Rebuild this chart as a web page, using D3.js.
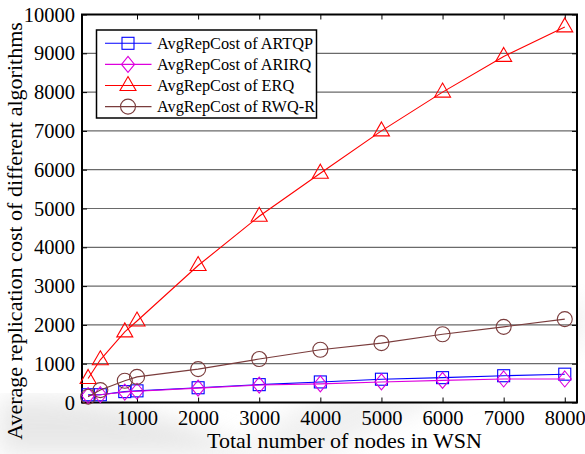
<!DOCTYPE html>
<html>
<head>
<meta charset="utf-8">
<script src="https://cdn.jsdelivr.net/npm/d3@7"></script>
<style>
  body { margin: 0; background: #fff; }
  svg { display: block; font-family: "Liberation Serif", "DejaVu Serif", serif; }
</style>
</head>
<body>
<div id="chart"></div>
<script>
// Data
const nodeCounts = [200, 400, 800, 1000, 2000, 3000, 4000, 5000, 6000, 7000, 8000];
const artqpCost = [200, 200, 280, 300, 380, 460, 530, 600, 640, 690, 730];
const arirqCost = [180, 200, 270, 290, 370, 450, 480, 530, 570, 606, 606];
const erqCost = [620, 1100, 1820, 2100, 3530, 4800, 5910, 7000, 8000, 8920, 9680];
const rwqrCost = [150, 320, 560, 660, 860, 1120, 1360, 1530, 1760, 1950, 2150];
const xTicks = [1000, 2000, 3000, 4000, 5000, 6000, 7000, 8000];
const yTicks = d3.range(0, 10001, 1000);

const seriesList = [
    { name: "AvgRepCost of ARTQP", values: artqpCost, color: "#0000ff", marker: "square" },
    { name: "AvgRepCost of ARIRQ", values: arirqCost, color: "#dd00dd", marker: "diamond" },
    { name: "AvgRepCost of ERQ", values: erqCost, color: "#ff0000", marker: "triangle" },
    { name: "AvgRepCost of RWQ-R", values: rwqrCost, color: "#7a3c3c", marker: "circle" }
];

const width = 585, height = 454;
const plot = { left: 82, right: 577, top: 14.5, bottom: 402.5 };
const serif = "'Liberation Serif', 'DejaVu Serif', serif";

const svg = d3.select("#chart").append("svg")
    .attr("width", width)
    .attr("height", height);

// faint background swoosh like the scanned figure
const defs = svg.append("defs");
defs.append("filter").attr("id", "blur")
    .append("feGaussianBlur").attr("stdDeviation", 12);
svg.append("path")
    .attr("d", "M0,454 L0,400 Q120,390 260,454 Z")
    .attr("fill", "#d8d8d8").attr("filter", "url(#blur)").attr("opacity", 0.6);
svg.append("path")
    .attr("d", "M230,454 Q330,380 470,330 L585,300 L585,340 Q430,400 330,454 Z")
    .attr("fill", "#e6e6e6").attr("filter", "url(#blur)").attr("opacity", 0.6);

const x = d3.scaleLinear().domain([100, 8200]).range([plot.left, plot.right]);
const y = d3.scaleLinear().domain([0, 10000]).range([plot.bottom, plot.top]);

const g = svg.append("g");

// plot background
g.append("rect")
    .attr("x", plot.left).attr("y", plot.top)
    .attr("width", plot.right - plot.left).attr("height", plot.bottom - plot.top)
    .attr("fill", "#fff");

// horizontal grid lines
g.append("g").selectAll("line")
    .data(yTicks.slice(1, -1))
    .join("line")
    .attr("x1", plot.left).attr("x2", plot.right)
    .attr("y1", d => y(d)).attr("y2", d => y(d))
    .attr("stroke", "#6a6a6a").attr("stroke-width", 1.2);

// axes with inward ticks
const fmt = d3.format("d");
const xAxis = g.append("g")
    .attr("transform", `translate(0,${plot.bottom})`)
    .call(d3.axisBottom(x).tickValues(xTicks).tickFormat(fmt).tickSizeInner(-5).tickSizeOuter(0).tickPadding(8));
const yAxis = g.append("g")
    .attr("transform", `translate(${plot.left},0)`)
    .call(d3.axisLeft(y).tickValues(yTicks).tickFormat(fmt).tickSizeInner(-5).tickSizeOuter(0).tickPadding(7));
g.append("g")
    .attr("transform", `translate(0,${plot.top})`)
    .call(d3.axisTop(x).tickValues(xTicks).tickSizeInner(-5).tickSizeOuter(0).tickFormat(""));
g.append("g")
    .attr("transform", `translate(${plot.right},0)`)
    .call(d3.axisRight(y).tickValues(yTicks).tickSizeInner(-5).tickSizeOuter(0).tickFormat(""));

g.selectAll(".domain").remove();
g.selectAll(".tick line").attr("stroke", "#000").attr("stroke-width", 1);
[xAxis, yAxis].forEach(a => {
    a.attr("font-family", serif).attr("font-size", 20.5);
    a.selectAll("text").attr("fill", "#000");
});

// frame
g.append("rect")
    .attr("x", plot.left).attr("y", plot.top)
    .attr("width", plot.right - plot.left).attr("height", plot.bottom - plot.top)
    .attr("fill", "none").attr("stroke", "#000").attr("stroke-width", 2);

// marker drawing helper
function drawMarker(sel, type, color) {
    if (type === "square") {
        sel.append("rect").attr("x", -6).attr("y", -6).attr("width", 12).attr("height", 12)
            .attr("fill", "none").attr("stroke", color).attr("stroke-width", 1.1);
    } else if (type === "diamond") {
        sel.append("path").attr("d", "M0,-8 L6.5,0 L0,8 L-6.5,0 Z")
            .attr("fill", "none").attr("stroke", color).attr("stroke-width", 1.1);
    } else if (type === "triangle") {
        sel.append("path").attr("d", "M0,-9 L8,5 L-8,5 Z")
            .attr("fill", "none").attr("stroke", color).attr("stroke-width", 1.1);
    } else {
        sel.append("circle").attr("r", 7.5)
            .attr("fill", "none").attr("stroke", color).attr("stroke-width", 1.1);
    }
}

const line = d3.line()
    .x(d => x(d[0]))
    .y(d => y(d[1]));

seriesList.forEach(s => {
    const pts = nodeCounts.map((n, i) => [n, s.values[i]]);
    const sg = g.append("g");
    sg.append("path")
        .datum(pts)
        .attr("d", line)
        .attr("fill", "none")
        .attr("stroke", s.color)
        .attr("stroke-width", 1.1);
    sg.selectAll("g.mk")
        .data(pts)
        .join("g")
        .attr("class", "mk")
        .attr("transform", d => `translate(${x(d[0])},${y(d[1])})`)
        .each(function() { drawMarker(d3.select(this), s.marker, s.color); });
});

// legend
const legend = g.append("g");
legend.append("rect")
    .attr("x", 96.5).attr("y", 30).attr("width", 220).attr("height", 88)
    .attr("fill", "#fff").attr("stroke", "#000").attr("stroke-width", 1.5);
seriesList.forEach((s, i) => {
    const ly = 43.3 + i * 21.1;
    const row = legend.append("g");
    row.append("line")
        .attr("x1", 105).attr("x2", 151.5).attr("y1", ly).attr("y2", ly)
        .attr("stroke", s.color).attr("stroke-width", 1.1);
    drawMarker(row.append("g").attr("transform", `translate(128,${ly})`), s.marker, s.color);
    row.append("text")
        .attr("x", 157).attr("y", ly + 5.7)
        .attr("font-family", serif)
        .attr("font-size", 16.3)
        .attr("fill", "#000")
        .text(s.name);
});

// axis titles
svg.append("text")
    .attr("x", 207).attr("y", 448)
    .attr("font-family", serif)
    .attr("font-size", 22)
    .text("Total number of nodes in WSN");
svg.append("text")
    .attr("transform", "translate(22,231) rotate(-90)")
    .attr("text-anchor", "middle")
    .attr("font-family", serif)
    .attr("font-size", 22)
    .text("Average replication cost of different algorithms");
</script>
</body>
</html>
